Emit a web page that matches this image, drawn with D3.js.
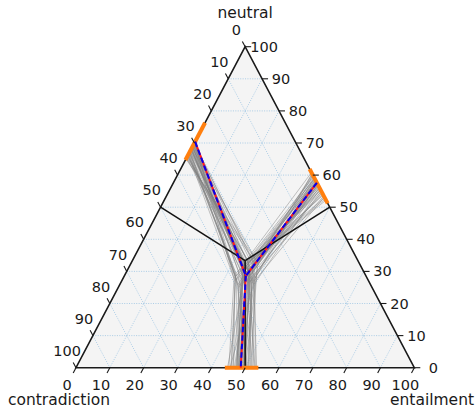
<!DOCTYPE html>
<html>
<head>
<meta charset="utf-8">
<script src="https://cdn.jsdelivr.net/npm/d3@7"></script>
<style>
body { margin: 0; background: #fff; }
text { font-family: "DejaVu Sans", sans-serif; fill: #1a1a1a; }
</style>
</head>
<body>
<script>
// axis names (top, left, right vertex)
const axisNames = ["neutral", "contradiction", "entailment"];
const tickValues = [0, 10, 20, 30, 40, 50, 60, 70, 80, 90, 100];

// gray runs: left edge contradiction %, right edge neutral %, bottom edge entailment %,
// junction neutral %, junction entailment %
const leftC = [29.6, 30.5, 31.2, 32.0, 30.1, 33.4, 31.8, 34.2, 29.9, 32.6, 30.8, 33.0, 31.5, 34.8, 30.3, 32.2, 31.0, 33.7,
  29.8, 32.9, 31.4, 30.6, 34.0, 31.9, 32.4, 30.9, 33.2, 35.0, 31.1, 32.7, 30.4, 33.9, 31.6, 32.1, 30.0, 34.5,
  31.3, 33.6, 30.2, 32.5, 34.4, 30.7, 31.7, 33.1];
const rightN = [57.5, 58.4, 56.2, 59.5, 55.0, 60.3, 57.0, 53.8, 58.9, 56.6, 54.4, 59.1, 57.9, 52.6, 58.1, 55.7, 60.8, 56.9,
  59.8, 54.9, 57.3, 58.7, 53.2, 56.0, 59.3, 57.7, 55.3, 52.2, 58.3, 56.4, 60.0, 54.1, 57.1, 58.0, 55.9, 53.5,
  56.8, 59.0, 54.6, 57.8, 55.4, 60.5, 53.0, 58.6];
const bottomE = [48.6, 47.5, 50.2, 46.3, 51.4, 48.0, 49.3, 52.6, 45.2, 49.8, 47.1, 50.7, 48.9, 53.4, 46.8, 49.5, 47.9, 51.9,
  48.3, 45.8, 50.0, 49.0, 52.2, 47.4, 48.1, 50.5, 46.0, 53.0, 49.2, 47.7, 51.1, 48.5, 49.7, 44.8, 50.9, 48.8,
  49.4, 46.6, 51.6, 47.8, 52.9, 45.5, 50.4, 48.2];
const junctionT = [28.6, 30.5, 26.4, 31.8, 27.0, 25.4, 29.1, 33.0, 27.8, 28.9, 31.2, 26.2, 30.3, 33.8, 28.3, 26.0, 31.5, 28.7,
  25.0, 29.3, 32.4, 27.6, 26.9, 30.0, 29.6, 25.8, 28.4, 34.2, 29.0, 27.3, 31.9, 28.8, 26.7, 30.9, 32.8, 27.2,
  29.4, 27.1, 31.0, 25.6, 33.4, 28.0, 30.2, 26.5];
const junctionE = [35.9, 34.2, 37.8, 33.6, 38.5, 36.1, 35.5, 34.5, 32.8, 37.0, 35.8, 38.9, 34.0, 35.4, 36.8, 39.6, 33.2, 36.4,
  35.6, 32.5, 37.6, 35.0, 39.2, 34.6, 36.4, 34.8, 33.0, 35.7, 37.3, 33.8, 36.2, 35.0, 38.2, 34.7, 35.9, 37.4,
  36.6, 33.4, 38.0, 35.3, 34.1, 39.0, 32.9, 36.9];

// mean run (same layout as the gray ones)
const meanRun = [29.6, 57.6, 48.7, 28.6, 35.9];

// orange ranges on each edge [from, to] in %
const leftRange = [23.7, 35.3];
const rightRange = [51.2, 61.9];
const bottomRange = [44.0, 53.9];

const width = 476, height = 412;

const svg = d3.select("body").append("svg")
  .attr("width", width)
  .attr("height", height);

// ternary -> screen through two linear scales
const xScale = d3.scaleLinear().domain([0, 1]).range([76, 414.3]);
const yScale = d3.scaleLinear().domain([0, 1]).range([367.7, 46.7]);
// t = neutral, l = contradiction, r = entailment (fractions)
function proj(t, l, r) {
  const s = t + l + r;
  t /= s; r /= s;
  return [xScale(r + t / 2), yScale(t)];
}

const line = d3.line();
const vTop = proj(1, 0, 0), vLeft = proj(0, 1, 0), vRight = proj(0, 0, 1);

// background
svg.append("path")
  .attr("d", line([vTop, vLeft, vRight]) + "Z")
  .attr("fill", "#f4f4f4");

// grid
const grid = svg.append("g")
  .attr("fill", "none")
  .attr("stroke", "#8dbbe0")
  .attr("stroke-width", 0.7)
  .attr("stroke-dasharray", "1,1.4");
d3.range(10, 100, 10).forEach(v => {
  const f = v / 100;
  grid.append("path").attr("d", line([proj(f, 1 - f, 0), proj(f, 0, 1 - f)]));   // neutral
  grid.append("path").attr("d", line([proj(1 - f, f, 0), proj(0, f, 1 - f)]));   // contradiction
  grid.append("path").attr("d", line([proj(1 - f, 0, f), proj(0, 1 - f, f)]));   // entailment
});

// triangle edges
svg.append("path")
  .attr("d", line([vTop, vLeft, vRight]) + "Z")
  .attr("fill", "none")
  .attr("stroke", "#1a1a1a")
  .attr("stroke-width", 1.6)
  .attr("stroke-linejoin", "miter");

// run -> three arms from the junction
function arms(run) {
  const [c, n, e, jt, je] = run.map(v => v / 100);
  const j = proj(jt, 1 - jt - je, je);
  return [
    [proj(1 - c, c, 0), j],
    [proj(n, 0, 1 - n), j],
    [proj(0, 1 - e, e), j]
  ];
}

const runs = leftC.map((c, i) => [c, rightN[i], bottomE[i], junctionT[i], junctionE[i]]);

const grayG = svg.append("g")
  .attr("fill", "none")
  .attr("stroke", "#808080")
  .attr("stroke-opacity", 0.6)
  .attr("stroke-width", 0.8);
runs.forEach(run => {
  const a = arms(run);
  grayG.append("path").attr("d", line([a[0][0], a[0][1], a[2][0]]));
  grayG.append("path").attr("d", line(a[1]));
});

// decision boundaries: edge midpoints -> centroid
const centroid = proj(1, 1, 1);
svg.append("g")
  .attr("stroke", "#111")
  .attr("stroke-width", 1.5)
  .selectAll("path")
  .data([proj(1, 1, 0), proj(1, 0, 1), proj(0, 1, 1)])
  .enter().append("path")
  .attr("d", d => line([d, centroid]));

// orange ranges
const orange = svg.append("g")
  .attr("stroke", "#ff7f0e")
  .attr("stroke-width", 4);
orange.append("path").attr("d", line([proj(1 - leftRange[0] / 100, leftRange[0] / 100, 0), proj(1 - leftRange[1] / 100, leftRange[1] / 100, 0)]));
orange.append("path").attr("d", line([proj(rightRange[0] / 100, 0, 1 - rightRange[0] / 100), proj(rightRange[1] / 100, 0, 1 - rightRange[1] / 100)]));
orange.append("path").attr("d", line([proj(0, 1 - bottomRange[0] / 100, bottomRange[0] / 100), proj(0, 1 - bottomRange[1] / 100, bottomRange[1] / 100)]));

// mean run: red underneath, blue dashes on top
const meanArms = arms(meanRun);
const meanPaths = [[meanArms[0][0], meanArms[0][1], meanArms[1][0]], [meanArms[0][1], meanArms[2][0]]];
meanPaths.forEach(p => {
  svg.append("path").attr("d", line(p))
    .attr("fill", "none").attr("stroke", "#ff1a1a").attr("stroke-width", 2);
  svg.append("path").attr("d", line(p))
    .attr("fill", "none").attr("stroke", "#0000ee").attr("stroke-width", 2)
    .attr("stroke-dasharray", "5.5,3");
});

// ticks and labels
function unit(v) { const n = Math.hypot(v[0], v[1]); return [v[0] / n, v[1] / n]; }
const leftDir = unit([vTop[0] - vRight[0], vTop[1] - vRight[1]]);
const bottomDir = unit([vLeft[0] - vTop[0], vLeft[1] - vTop[1]]);
const axes = [
  { dir: leftDir, pt: v => proj(1 - v, v, 0) },
  { dir: bottomDir, pt: v => proj(0, 1 - v, v) },
  { dir: [1, 0], pt: v => proj(v, 0, 1 - v) }
];
const tickG = svg.append("g");
axes.forEach(ax => {
  tickValues.forEach(v => {
    const p = ax.pt(v / 100);
    tickG.append("line")
      .attr("x1", p[0]).attr("y1", p[1])
      .attr("x2", p[0] + ax.dir[0] * 6).attr("y2", p[1] + ax.dir[1] * 6)
      .attr("stroke", "#1a1a1a").attr("stroke-width", 1.1);
    tickG.append("text")
      .attr("x", p[0] + ax.dir[0] * 19)
      .attr("y", p[1] + ax.dir[1] * 19)
      .attr("text-anchor", "middle")
      .attr("dominant-baseline", "central")
      .attr("font-size", 14.5)
      .text(v);
  });
});

// axis titles
svg.append("text").attr("x", vTop[0]).attr("y", 13)
  .attr("text-anchor", "middle").attr("dominant-baseline", "central")
  .attr("font-size", 15.5).text(axisNames[0]);
svg.append("text").attr("x", 59).attr("y", 400)
  .attr("text-anchor", "middle").attr("dominant-baseline", "central")
  .attr("font-size", 15.5).text(axisNames[1]);
svg.append("text").attr("x", 432).attr("y", 400)
  .attr("text-anchor", "middle").attr("dominant-baseline", "central")
  .attr("font-size", 15.5).text(axisNames[2]);
</script>
</body>
</html>
